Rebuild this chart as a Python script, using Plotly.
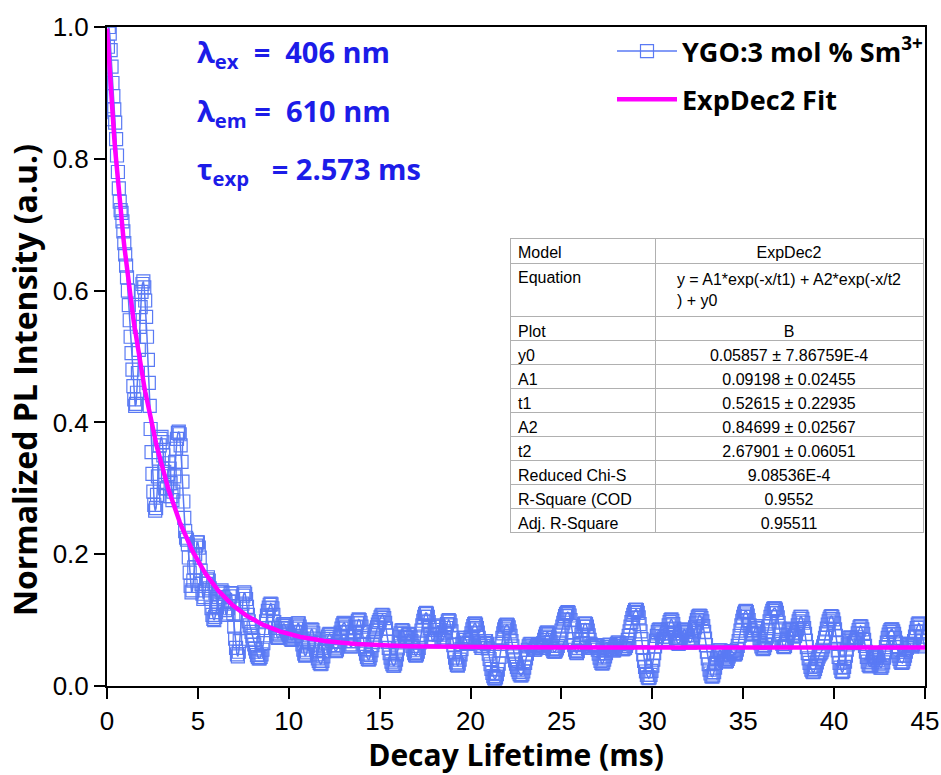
import numpy as np
import plotly.graph_objects as go

# Sampling interval of the decay trace (ms)
time_step_ms = 0.05

# Normalized PL intensity, one row per millisecond (20 samples each)
intensity = [
    # 0 ms
    0.860, 0.970, 1.000, 0.990, 0.965, 0.940, 0.915, 0.895, 0.875, 0.855,
    0.830, 0.805, 0.780, 0.755, 0.735, 0.722, 0.718, 0.705, 0.690, 0.672,
    # 1 ms
    0.655, 0.638, 0.620, 0.600, 0.578, 0.555, 0.530, 0.505, 0.480, 0.455,
    0.435, 0.425, 0.428, 0.445, 0.475, 0.510, 0.545, 0.575, 0.598, 0.610,
    # 2 ms
    0.614, 0.605, 0.585, 0.560, 0.530, 0.495, 0.460, 0.425, 0.390, 0.355,
    0.322, 0.295, 0.275, 0.266, 0.270, 0.290, 0.318, 0.345, 0.365, 0.375,
    # 3 ms
    0.378, 0.370, 0.350, 0.325, 0.300, 0.288, 0.300, 0.322, 0.338, 0.330,
    0.308, 0.288, 0.282, 0.295, 0.318, 0.340, 0.360, 0.375, 0.384, 0.386,
    # 4 ms
    0.382, 0.365, 0.340, 0.310, 0.280, 0.255, 0.235, 0.225, 0.222, 0.215,
    0.195, 0.172, 0.152, 0.142, 0.145, 0.160, 0.180, 0.200, 0.213, 0.218,
    # 5 ms
    0.218, 0.210, 0.195, 0.175, 0.155, 0.140, 0.132, 0.135, 0.145, 0.155,
    0.162, 0.165, 0.160, 0.148, 0.132, 0.118, 0.108, 0.102, 0.100, 0.105,
    # 6 ms
    0.112, 0.120, 0.128, 0.135, 0.140, 0.143, 0.145, 0.142, 0.135, 0.125,
    0.115, 0.108, 0.110, 0.118, 0.128, 0.136, 0.141, 0.140, 0.128, 0.110,
    # 7 ms
    0.090, 0.072, 0.058, 0.048, 0.045, 0.052, 0.068, 0.088, 0.108, 0.125,
    0.137, 0.142, 0.140, 0.132, 0.120, 0.108, 0.098, 0.092, 0.088, 0.082,
    # 8 ms
    0.076, 0.070, 0.063, 0.057, 0.052, 0.047, 0.044, 0.042, 0.042, 0.044,
    0.048, 0.055, 0.065, 0.077, 0.088, 0.098, 0.107, 0.114, 0.119, 0.123,
    # 9 ms
    0.125, 0.124, 0.118, 0.108, 0.097, 0.088, 0.080, 0.075, 0.073, 0.074,
    0.078, 0.083, 0.088, 0.092, 0.094, 0.094, 0.091, 0.087, 0.083, 0.080,
    # 10 ms
    0.078, 0.075, 0.072, 0.070, 0.070, 0.072, 0.076, 0.081, 0.087, 0.092,
    0.095, 0.095, 0.090, 0.082, 0.072, 0.063, 0.055, 0.049, 0.046, 0.047,
    # 11 ms
    0.052, 0.060, 0.069, 0.077, 0.083, 0.086, 0.085, 0.080, 0.072, 0.063,
    0.055, 0.048, 0.042, 0.038, 0.035, 0.033, 0.034, 0.038, 0.045, 0.053,
    # 12 ms
    0.060, 0.066, 0.071, 0.075, 0.078, 0.079, 0.078, 0.074, 0.068, 0.062,
    0.057, 0.054, 0.053, 0.055, 0.060, 0.067, 0.074, 0.081, 0.087, 0.092,
    # 13 ms
    0.095, 0.096, 0.094, 0.089, 0.082, 0.075, 0.068, 0.063, 0.060, 0.060,
    0.063, 0.068, 0.075, 0.082, 0.089, 0.095, 0.099, 0.101, 0.100, 0.096,
    # 14 ms
    0.090, 0.082, 0.073, 0.064, 0.056, 0.049, 0.044, 0.041, 0.040, 0.042,
    0.047, 0.054, 0.062, 0.067, 0.072, 0.078, 0.084, 0.089, 0.093, 0.097,
    # 15 ms
    0.100, 0.104, 0.107, 0.108, 0.107, 0.103, 0.096, 0.087, 0.077, 0.067,
    0.058, 0.050, 0.043, 0.037, 0.033, 0.031, 0.031, 0.034, 0.040, 0.048,
    # 16 ms
    0.057, 0.066, 0.074, 0.080, 0.084, 0.085, 0.083, 0.079, 0.075, 0.073,
    0.074, 0.077, 0.079, 0.078, 0.074, 0.068, 0.061, 0.055, 0.050, 0.047,
    # 17 ms
    0.046, 0.048, 0.052, 0.058, 0.066, 0.075, 0.084, 0.092, 0.099, 0.105,
    0.109, 0.111, 0.110, 0.105, 0.097, 0.088, 0.079, 0.072, 0.068, 0.068,
    # 18 ms
    0.072, 0.078, 0.085, 0.090, 0.092, 0.090, 0.085, 0.078, 0.072, 0.069,
    0.070, 0.074, 0.081, 0.088, 0.094, 0.098, 0.100, 0.098, 0.092, 0.083,
    # 19 ms
    0.073, 0.062, 0.052, 0.043, 0.036, 0.032, 0.031, 0.034, 0.040, 0.048,
    0.056, 0.064, 0.070, 0.073, 0.073, 0.070, 0.066, 0.064, 0.065, 0.069,
    # 20 ms
    0.074, 0.080, 0.086, 0.091, 0.094, 0.095, 0.093, 0.088, 0.081, 0.073,
    0.066, 0.061, 0.058, 0.058, 0.061, 0.065, 0.068, 0.068, 0.064, 0.057,
    # 21 ms
    0.049, 0.041, 0.033, 0.026, 0.020, 0.015, 0.012, 0.011, 0.013, 0.018,
    0.025, 0.034, 0.044, 0.054, 0.064, 0.073, 0.080, 0.086, 0.090, 0.092,
    # 22 ms
    0.093, 0.092, 0.089, 0.083, 0.076, 0.068, 0.060, 0.052, 0.045, 0.039,
    0.034, 0.029, 0.025, 0.021, 0.018, 0.016, 0.016, 0.018, 0.022, 0.028,
    # 23 ms
    0.035, 0.042, 0.049, 0.055, 0.060, 0.063, 0.064, 0.063, 0.060, 0.057,
    0.055, 0.055, 0.057, 0.060, 0.062, 0.062, 0.060, 0.058, 0.058, 0.061,
    # 24 ms
    0.065, 0.070, 0.075, 0.079, 0.081, 0.081, 0.078, 0.073, 0.067, 0.061,
    0.056, 0.053, 0.052, 0.052, 0.054, 0.057, 0.061, 0.066, 0.072, 0.078,
    # 25 ms
    0.084, 0.090, 0.096, 0.101, 0.106, 0.109, 0.111, 0.112, 0.111, 0.107,
    0.100, 0.091, 0.081, 0.071, 0.062, 0.055, 0.051, 0.050, 0.053, 0.058,
    # 26 ms
    0.064, 0.071, 0.078, 0.085, 0.090, 0.094, 0.095, 0.094, 0.090, 0.084,
    0.077, 0.070, 0.064, 0.060, 0.058, 0.058, 0.060, 0.062, 0.062, 0.060,
    # 27 ms
    0.055, 0.049, 0.043, 0.038, 0.035, 0.034, 0.036, 0.040, 0.045, 0.050,
    0.055, 0.059, 0.062, 0.063, 0.062, 0.059, 0.056, 0.054, 0.054, 0.057,
    # 28 ms
    0.061, 0.064, 0.066, 0.066, 0.064, 0.061, 0.058, 0.056, 0.056, 0.057,
    0.058, 0.061, 0.065, 0.070, 0.076, 0.083, 0.090, 0.097, 0.103, 0.108,
    # 29 ms
    0.112, 0.115, 0.116, 0.115, 0.111, 0.104, 0.094, 0.083, 0.071, 0.059,
    0.048, 0.038, 0.029, 0.022, 0.017, 0.013, 0.012, 0.013, 0.017, 0.023,
    # 30 ms
    0.031, 0.040, 0.050, 0.060, 0.069, 0.076, 0.082, 0.085, 0.086, 0.084,
    0.080, 0.075, 0.071, 0.069, 0.070, 0.074, 0.080, 0.086, 0.092, 0.097,
    # 31 ms
    0.100, 0.101, 0.099, 0.094, 0.087, 0.080, 0.073, 0.068, 0.065, 0.064,
    0.066, 0.070, 0.075, 0.080, 0.084, 0.086, 0.085, 0.082, 0.077, 0.072,
    # 32 ms
    0.068, 0.066, 0.066, 0.068, 0.072, 0.077, 0.083, 0.089, 0.095, 0.100,
    0.104, 0.106, 0.107, 0.106, 0.103, 0.098, 0.091, 0.082, 0.072, 0.062,
    # 33 ms
    0.052, 0.042, 0.033, 0.025, 0.019, 0.015, 0.014, 0.016, 0.021, 0.028,
    0.035, 0.042, 0.048, 0.052, 0.054, 0.054, 0.051, 0.047, 0.043, 0.040,
    # 34 ms
    0.038, 0.037, 0.038, 0.041, 0.045, 0.049, 0.052, 0.053, 0.052, 0.050,
    0.048, 0.048, 0.050, 0.055, 0.061, 0.068, 0.076, 0.084, 0.092, 0.099,
    # 35 ms
    0.105, 0.110, 0.113, 0.114, 0.112, 0.107, 0.100, 0.092, 0.085, 0.080,
    0.078, 0.079, 0.083, 0.088, 0.091, 0.091, 0.087, 0.080, 0.072, 0.065,
    # 36 ms
    0.060, 0.057, 0.056, 0.058, 0.062, 0.068, 0.075, 0.083, 0.091, 0.098,
    0.105, 0.110, 0.114, 0.117, 0.118, 0.118, 0.116, 0.111, 0.104, 0.096,
    # 37 ms
    0.087, 0.078, 0.070, 0.064, 0.060, 0.059, 0.061, 0.066, 0.072, 0.078,
    0.083, 0.086, 0.087, 0.085, 0.081, 0.077, 0.075, 0.076, 0.080, 0.086,
    # 38 ms
    0.092, 0.098, 0.102, 0.105, 0.105, 0.102, 0.096, 0.088, 0.079, 0.069,
    0.059, 0.050, 0.042, 0.035, 0.029, 0.025, 0.022, 0.021, 0.022, 0.026,
    # 39 ms
    0.031, 0.036, 0.041, 0.045, 0.048, 0.050, 0.052, 0.055, 0.060, 0.066,
    0.073, 0.080, 0.087, 0.093, 0.098, 0.102, 0.105, 0.106, 0.105, 0.101,
    # 40 ms
    0.095, 0.086, 0.076, 0.065, 0.054, 0.044, 0.035, 0.028, 0.023, 0.021,
    0.023, 0.029, 0.037, 0.046, 0.055, 0.063, 0.069, 0.073, 0.074, 0.072,
    # 41 ms
    0.069, 0.066, 0.065, 0.066, 0.069, 0.074, 0.080, 0.085, 0.089, 0.091,
    0.090, 0.086, 0.079, 0.070, 0.061, 0.052, 0.044, 0.037, 0.032, 0.030,
    # 42 ms
    0.030, 0.032, 0.036, 0.040, 0.043, 0.045, 0.045, 0.043, 0.039, 0.034,
    0.030, 0.028, 0.028, 0.031, 0.036, 0.043, 0.051, 0.059, 0.066, 0.073,
    # 43 ms
    0.078, 0.082, 0.085, 0.086, 0.086, 0.083, 0.079, 0.073, 0.066, 0.059,
    0.052, 0.046, 0.041, 0.037, 0.035, 0.035, 0.037, 0.041, 0.046, 0.052,
    # 44 ms
    0.058, 0.062, 0.064, 0.064, 0.062, 0.060, 0.060, 0.063, 0.068, 0.075,
    0.082, 0.088, 0.093, 0.095, 0.094, 0.090, 0.083, 0.075, 0.068, 0.063,
    # 45 ms
    0.060,
]

time_ms = np.round(np.arange(len(intensity)) * time_step_ms, 2)

# ExpDec2 fit parameters
fit_y0 = 0.05857
fit_A1 = 0.09198
fit_t1 = 0.52615
fit_A2 = 0.84699
fit_t2 = 2.67901
fit_curve = fit_A1 * np.exp(-time_ms / fit_t1) + fit_A2 * np.exp(-time_ms / fit_t2) + fit_y0

# Fit report table
table_labels = ["Model", "Equation", "Plot", "y0", "A1", "t1", "A2", "t2",
                "Reduced Chi-S", "R-Square (COD", "Adj. R-Square"]
table_values = ["ExpDec2",
                "y = A1*exp(-x/t1) + A2*exp(-x/t2<br>) + y0",
                "B",
                "0.05857 ± 7.86759E-4",
                "0.09198 ± 0.02455",
                "0.52615 ± 0.22935",
                "0.84699 ± 0.02567",
                "2.67901 ± 0.06051",
                "9.08536E-4",
                "0.9552",
                "0.95511"]

x_ticks = [0, 5, 10, 15, 20, 25, 30, 35, 40, 45]
y_ticks = [0.0, 0.2, 0.4, 0.6, 0.8, 1.0]

data_color = "#5a7af4"
fit_color = "#ff00ff"
note_color = "#1c1ce8"
title_font = "Open Sans, Lato"
label_font = "Liberation Sans, Arial"

fig = go.Figure()

fig.add_trace(go.Scatter(
    x=time_ms, y=intensity,
    mode="lines+markers",
    name="YGO:3 mol % Sm<sup>3+</sup>",
    line=dict(color=data_color, width=1.5),
    marker=dict(symbol="square-open", size=13, color=data_color,
                line=dict(color=data_color, width=1.2)),
    legendgroup="data",
))

fig.add_trace(go.Scatter(
    x=time_ms, y=fit_curve,
    mode="lines",
    name="ExpDec2 Fit",
    line=dict(color=fit_color, width=4.5),
    legendgroup="fit",
))

plot_l, plot_r, plot_t, plot_b = 107, 925, 27, 686
W, H = 941, 775


def px_to_paper_x(px):
    return (px - plot_l) / (plot_r - plot_l)


def px_to_paper_y(py):
    return (plot_b - py) / (plot_b - plot_t)


fig.add_trace(go.Table(
    domain=dict(x=[px_to_paper_x(510), px_to_paper_x(923)],
                y=[px_to_paper_y(560), px_to_paper_y(238)]),
    columnwidth=[145, 268],
    header=dict(values=[table_labels[0], table_values[0]],
                align=["left", "center"],
                line=dict(color="#b0b0b0", width=1),
                fill=dict(color="white"),
                font=dict(family=label_font, size=16, color="black"),
                height=25),
    cells=dict(values=[table_labels[1:], table_values[1:]],
               align=["left", "center"],
               line=dict(color="#b0b0b0", width=1),
               fill=dict(color="white"),
               font=dict(family=label_font, size=16, color="black"),
               height=24),
))

notes = [
    ("λ<sub>ex</sub>  =  406 nm", 54),
    ("λ<sub>em</sub> =  610 nm", 113),
    ("τ<sub>exp</sub>   = 2.573 ms", 170),
]
for text, py in notes:
    fig.add_annotation(
        text=text, xref="paper", yref="paper",
        x=px_to_paper_x(195), y=px_to_paper_y(py),
        xanchor="left", yanchor="middle", showarrow=False,
        font=dict(family=title_font, size=29, color=note_color, weight="bold"),
    )

# Y-axis title, rotated
fig.add_annotation(
    text="Normalized PL Intensity (a.u.)", xref="paper", yref="paper",
    x=px_to_paper_x(24), y=px_to_paper_y(380),
    xanchor="center", yanchor="middle", textangle=-90, showarrow=False,
    font=dict(family=title_font, size=32, color="black", weight="bold"),
)

axis_common = dict(
    showline=True, linecolor="black", linewidth=2, mirror=True,
    ticks="outside", ticklen=11, tickwidth=2, tickcolor="black",
    showgrid=False, zeroline=False, automargin=False,
    tickfont=dict(family=label_font, size=26, color="black"),
)

fig.update_xaxes(
    range=[0, 45], tickvals=x_ticks,
    ticktext=[str(v) for v in x_ticks],
    title=dict(text="Decay Lifetime (ms)", standoff=17,
               font=dict(family=title_font, size=30, color="black", weight="bold")),
    **axis_common,
)
fig.update_yaxes(
    range=[0, 1.0], tickvals=y_ticks,
    ticktext=[f"{v:.1f}" for v in y_ticks],
    **axis_common,
)

fig.update_layout(
    width=W, height=H,
    margin=dict(l=plot_l, r=W - plot_r, t=plot_t, b=H - plot_b, autoexpand=False),
    paper_bgcolor="white", plot_bgcolor="white",
    showlegend=True,
    legend=dict(
        x=px_to_paper_x(612), y=px_to_paper_y(27), xanchor="left", yanchor="top",
        bgcolor="rgba(0,0,0,0)", borderwidth=0,
        font=dict(family=title_font, size=27, color="black", weight="bold"),
        tracegroupgap=10, traceorder="grouped", itemwidth=60,
    ),
)

fig.write_html("out.html")
